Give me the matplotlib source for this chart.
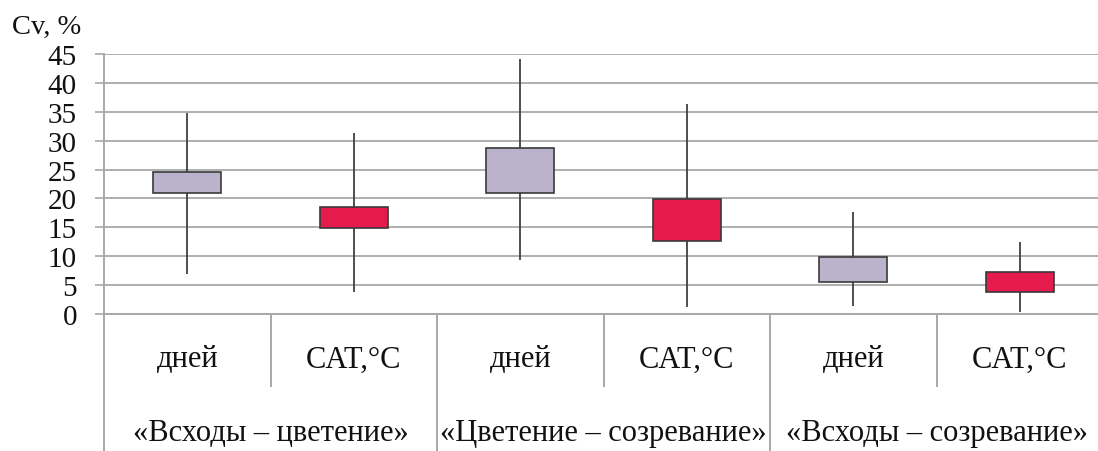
import matplotlib
matplotlib.use("Agg")
import matplotlib.pyplot as plt
from matplotlib.transforms import blended_transform_factory

# Coefficient of variation (Cv, %) by interphase period
groups = ["«Всходы – цветение»", "«Цветение – созревание»", "«Всходы – созревание»"]
measures = ["дней", "CAT,°C"]
box_low = [21.0, 14.8, 21.0, 12.6, 5.5, 3.8]
box_high = [24.5, 18.6, 28.8, 19.9, 9.8, 7.3]
whisker_low = [7.0, 3.8, 9.3, 1.2, 1.3, 0.4]
whisker_high = [34.8, 31.4, 44.2, 36.3, 17.7, 12.5]
yticks = [0, 5, 10, 15, 20, 25, 30, 35, 40, 45]

plt.rcParams["font.family"] = ["Liberation Serif", "DejaVu Serif"]

fig = plt.figure(figsize=(10.98, 4.52), dpi=100)
ax = fig.add_axes([104 / 1098, 1 - 315 / 452, 999 / 1098, 260 / 452])

colors = ["#bbb3cb", "#e41b4c"]
grid_col = "#a8a8a8"
text_col = "#111111"
n = len(box_low)
xs = list(range(n))
box_colors = [colors[i % 2] for i in xs]

ax.vlines(xs, whisker_low, whisker_high, color="#404040", lw=1.3, zorder=2)
heights = [h - l for h, l in zip(box_high, box_low)]
ax.bar(xs, heights, bottom=box_low, width=0.41, color=box_colors,
       edgecolor="#3a3a3a", linewidth=1.2, zorder=3)

ax.set_xlim(-0.5, n - 0.5)
ax.set_ylim(0, 45)
ax.set_yticks(yticks)
ax.set_yticklabels([str(t) for t in yticks], fontsize=21, color=text_col)
ax.yaxis.grid(True, color=grid_col, lw=1.3)
ax.set_axisbelow(True)
ax.set_xticks([])
ax.tick_params(axis="y", length=6.5, width=1.2, color=grid_col, pad=13)

for s in ["top", "right"]:
    ax.spines[s].set_visible(False)
for s in ["left", "bottom"]:
    ax.spines[s].set_color(grid_col)
    ax.spines[s].set_linewidth(1.4)

trans = blended_transform_factory(ax.transData, ax.transAxes)
# separators of the two-level category axis
for i in range(n + 1):
    x = i - 0.5
    bottom = -0.277 if i % 2 == 1 else -0.6
    ax.plot([x, x], [0, bottom], transform=trans, color=grid_col, lw=1.4,
            clip_on=False, zorder=1)

for i in xs:
    ax.text(i, -0.173, measures[i % 2], transform=trans, ha="center",
            va="center", fontsize=22, color=text_col)
for g, name in enumerate(groups):
    ax.text(2 * g + 0.5, -0.454, name, transform=trans, ha="center",
            va="center", fontsize=22, color=text_col)

fig.text(12 / 1098, 1 - 27 / 452, "Cv, %", ha="left", va="center",
         fontsize=20.5, color=text_col)

fig.savefig("out.png", dpi=100)
